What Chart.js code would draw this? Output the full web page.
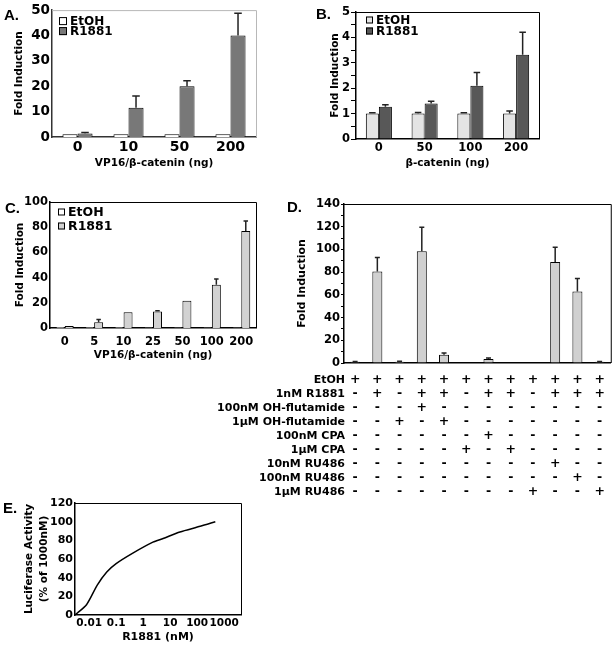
<!DOCTYPE html>
<html>
<head>
<meta charset="utf-8">
<script src="https://cdn.jsdelivr.net/npm/chart.js@4.4.1/dist/chart.umd.min.js"></script>
<style>
  body { margin: 0; background: #fff; }
  #page { position: relative; width: 615px; height: 648px; overflow: hidden; }
  canvas { position: absolute; }
  .tag { position: absolute; font: bold 15px 'Liberation Sans', Arial, sans-serif; color: #000; }
</style>
</head>
<body>
<div id="page">
  <canvas id="chartA" width="270" height="175" style="left:0;top:0"></canvas>
  <canvas id="chartB" width="315" height="175" style="left:300px;top:0"></canvas>
  <canvas id="chartC" width="270" height="185" style="left:0;top:182px"></canvas>
  <canvas id="chartD" width="415" height="320" style="left:200px;top:185px"></canvas>
  <canvas id="chartE" width="260" height="178" style="left:0;top:470px"></canvas>
  <div class="tag" style="left:4px;top:6px">A.</div>
  <div class="tag" style="left:316px;top:5px">B.</div>
  <div class="tag" style="left:5px;top:199px">C.</div>
  <div class="tag" style="left:287px;top:198px">D.</div>
  <div class="tag" style="left:3px;top:499px">E.</div>
</div>
<script>
// === DATA ===
// A. VP16/beta-catenin
const catsA = ['0', '10', '50', '200'];
const etohA = [1.1, 1.1, 1.1, 1.1];
const r1881A = [1.4, 11.5, 20.0, 40.0];
const r1881ErrA = [0.4, 4.7, 2.2, 8.8];

// B. beta-catenin
const catsB = ['0', '50', '100', '200'];
const etohB = [1.0, 1.0, 1.0, 1.0];
const etohErrB = [0.03, 0.04, 0.03, 0.1];
const r1881B = [1.27, 1.4, 2.1, 3.32];
const r1881ErrB = [0.08, 0.09, 0.52, 0.88];

// C. VP16/beta-catenin dose
const catsC = ['0', '5', '10', '25', '50', '100', '200'];
const etohC = [0.8, 0.6, 0.6, 0.5, 0.5, 0.5, 0.5];
const r1881C = [1.5, 4.6, 12.5, 13.0, 21.6, 34.3, 77.0];
const r1881ErrC = [0, 2.2, 0, 0.6, 0, 4.5, 8.0];

// D. antiandrogens
const valuesD = [1.0, 80.5, 1.2, 98.5, 7.2, 0.6, 3.5, 0.6, 0.6, 89.0, 63.0, 1.0];
const errD = [0.3, 12.5, 0.4, 21.0, 1.5, 0, 1.0, 0, 0, 13.0, 11.5, 0.4];
const rowLabelsD = ['EtOH', '1nM R1881', '100nM OH-flutamide', '1μM OH-flutamide',
  '100nM CPA', '1μM CPA', '10nM RU486', '100nM RU486', '1μM RU486'];
const signsD = [
  '++++++++++++',
  '-+-++-++-+++',
  '---+--------',
  '--+-+-------',
  '------+-----',
  '-----+-+----',
  '---------+--',
  '----------+-',
  '--------+--+'
];

// E. R1881 dose response
const doseE = [0.003, 0.008, 0.02, 0.045, 0.1, 0.4, 2.3, 5.5, 23, 130, 470];
const activityE = [0, 11, 32, 46, 55, 66, 78, 82, 89, 95, 100];
const tickValuesE = [0.01, 0.1, 1, 10, 100, 1000];

// === DEFAULTS ===
Chart.defaults.font.family = "'DejaVu Sans', sans-serif";
Chart.defaults.font.weight = 'bold';
Chart.defaults.color = '#000';

// === PLUGINS ===
// upper error bars with a small cap
const errorBars = {
  id: 'errorBars',
  afterDatasetsDraw(chart) {
    const ctx = chart.ctx;
    const yScale = chart.scales.y;
    chart.data.datasets.forEach((ds, di) => {
      if (!ds.errors) return;
      const meta = chart.getDatasetMeta(di);
      meta.data.forEach((bar, i) => {
        const err = ds.errors[i];
        if (!err) return;
        const top = yScale.getPixelForValue(ds.data[i] + err);
        const half = bar.width / 4;
        ctx.save();
        ctx.strokeStyle = '#222';
        ctx.lineWidth = 1.5;
        ctx.beginPath();
        ctx.moveTo(bar.x, bar.y);
        ctx.lineTo(bar.x, top);
        ctx.moveTo(bar.x - half, top);
        ctx.lineTo(bar.x + half, top);
        ctx.stroke();
        ctx.restore();
      });
    });
  }
};

// top + right edge of the plot box
const frame = {
  id: 'frame',
  afterDraw(chart, args, opts) {
    const { left, top, right, bottom } = chart.chartArea;
    const ctx = chart.ctx;
    ctx.save();
    ctx.strokeStyle = opts.color || '#000';
    ctx.lineWidth = 1;
    ctx.beginPath();
    ctx.moveTo(left, top + 0.5);
    ctx.lineTo(right + 0.5, top + 0.5);
    ctx.lineTo(right + 0.5, bottom);
    ctx.stroke();
    ctx.restore();
  }
};

// legend drawn inside the plot, top-left
const boxLegend = {
  id: 'boxLegend',
  afterDraw(chart, args, opts) {
    const ctx = chart.ctx;
    const { left, top } = chart.chartArea;
    ctx.save();
    ctx.font = `bold ${opts.size}px 'DejaVu Sans', sans-serif`;
    ctx.textBaseline = 'middle';
    chart.data.datasets.forEach((ds, i) => {
      const x = left + opts.dx;
      const y = top + opts.dy + i * opts.gap;
      ctx.fillStyle = ds.backgroundColor;
      ctx.fillRect(x, y - opts.box / 2, opts.box, opts.box);
      ctx.strokeStyle = '#000';
      ctx.lineWidth = 1;
      ctx.strokeRect(x + 0.5, y - opts.box / 2 + 0.5, opts.box - 1, opts.box - 1);
      ctx.fillStyle = '#000';
      ctx.fillText(ds.label, x + opts.box + 3, y + 0.5);
    });
    ctx.restore();
  }
};

// row names for the +/- table under panel D
const rowLabels = {
  id: 'rowLabels',
  afterDraw(chart, args, opts) {
    const ctx = chart.ctx;
    const xs = chart.scales.x;
    ctx.save();
    ctx.font = `bold ${opts.size}px 'DejaVu Sans', sans-serif`;
    ctx.textAlign = 'right';
    ctx.textBaseline = 'middle';
    ctx.fillStyle = '#000';
    opts.labels.forEach((t, i) => {
      ctx.fillText(t, chart.chartArea.left + 1, xs.top + opts.padding + opts.lineHeight * (i + 0.5));
    });
    ctx.restore();
  }
};

const fixW = (w) => (s) => { s.width = w; };
const fixH = (h) => (s) => { s.height = h; };

// === A ===
new Chart(document.getElementById('chartA'), {
  type: 'bar',
  data: {
    labels: catsA,
    datasets: [
      { label: 'EtOH', data: etohA, backgroundColor: '#ffffff', borderColor: '#000', borderWidth: 1 },
      { label: 'R1881', data: r1881A, errors: r1881ErrA, backgroundColor: '#787878', borderColor: '#000', borderWidth: 1 }
    ]
  },
  options: {
    responsive: false, animation: false,
    layout: { autoPadding: false, padding: { left: 13, top: 10, right: 14, bottom: 0 } },
    datasets: { bar: { categoryPercentage: 0.59, barPercentage: 1 } },
    plugins: { legend: { display: false }, tooltip: { enabled: false },
      frame: { color: '#b8b8b8' },
      boxLegend: { dx: 7, dy: 11, gap: 10, box: 8, size: 12 } },
    scales: {
      x: {
        grid: { display: false, drawTicks: false },
        border: { color: '#333', width: 1.5 },
        ticks: { font: { size: 14 }, padding: 2, maxRotation: 0, autoSkip: false },
        title: { display: true, text: 'VP16/β-catenin (ng)', font: { size: 10.5 }, padding: { top: 0, bottom: 5 } },
        afterFit: fixH(38)
      },
      y: {
        min: 0, max: 50,
        grid: { display: false, drawTicks: false },
        border: { color: '#333', width: 1.5 },
        ticks: { stepSize: 10, font: { size: 13.5 }, padding: 2 },
        title: { display: true, text: 'Fold Induction', font: { size: 10.5 }, padding: { top: 0, bottom: 0 } },
        afterFit: fixW(39)
      }
    }
  },
  plugins: [errorBars, frame, boxLegend]
});

// === B ===
new Chart(document.getElementById('chartB'), {
  type: 'bar',
  data: {
    labels: catsB,
    datasets: [
      { label: 'EtOH', data: etohB, errors: etohErrB, backgroundColor: '#e4e4e4', borderColor: '#000', borderWidth: 1 },
      { label: 'R1881', data: r1881B, errors: r1881ErrB, backgroundColor: '#585858', borderColor: '#000', borderWidth: 1 }
    ]
  },
  options: {
    responsive: false, animation: false,
    layout: { autoPadding: false, padding: { left: 29, top: 12, right: 76, bottom: 0 } },
    datasets: { bar: { categoryPercentage: 0.57, barPercentage: 1 } },
    plugins: { legend: { display: false }, tooltip: { enabled: false },
      frame: { color: '#000' },
      boxLegend: { dx: 10, dy: 8, gap: 11, box: 7, size: 12 } },
    scales: {
      x: {
        grid: { display: false, drawTicks: false },
        border: { color: '#000', width: 1.5 },
        ticks: { font: { size: 11.5 }, padding: 2, maxRotation: 0, autoSkip: false },
        title: { display: true, text: 'β-catenin (ng)', font: { size: 10.5 }, padding: { top: 0, bottom: 5 } },
        afterFit: fixH(36)
      },
      y: {
        min: 0, max: 5,
        grid: { display: true, drawOnChartArea: false, tickLength: 5, color: '#000' },
        border: { color: '#000', width: 1.5 },
        ticks: { stepSize: 0.5, autoSkip: false, font: { size: 11.5 }, padding: 1,
          callback: (v) => (v % 1 === 0 ? v : '') },
        title: { display: true, text: 'Fold Induction', font: { size: 10.5 }, padding: { top: 0, bottom: 0 } },
        afterFit: fixW(27)
      }
    }
  },
  plugins: [errorBars, frame, boxLegend]
});

// === C ===
new Chart(document.getElementById('chartC'), {
  type: 'bar',
  data: {
    labels: catsC,
    datasets: [
      { label: 'EtOH', data: etohC, backgroundColor: '#ffffff', borderColor: '#000', borderWidth: 1 },
      { label: 'R1881', data: r1881C, errors: r1881ErrC, backgroundColor: '#d2d2d2', borderColor: '#000', borderWidth: 1 }
    ]
  },
  options: {
    responsive: false, animation: false,
    layout: { autoPadding: false, padding: { left: 14, top: 20, right: 14, bottom: 0 } },
    datasets: { bar: { categoryPercentage: 0.61, barPercentage: 1 } },
    plugins: { legend: { display: false }, tooltip: { enabled: false },
      frame: { color: '#000' },
      boxLegend: { dx: 8, dy: 10, gap: 14, box: 7, size: 12.5 } },
    scales: {
      x: {
        grid: { display: false, drawTicks: false },
        border: { color: '#000', width: 1.5 },
        ticks: { font: { size: 11.5 }, padding: 7, maxRotation: 0, autoSkip: false },
        title: { display: true, text: 'VP16/β-catenin (ng)', font: { size: 10.5 }, padding: { top: 0, bottom: 5 } },
        afterFit: fixH(39)
      },
      y: {
        min: 0, max: 100,
        grid: { display: false, drawTicks: false },
        border: { color: '#000', width: 1.5 },
        ticks: { stepSize: 20, font: { size: 11.5 }, padding: 2 },
        title: { display: true, text: 'Fold Induction', font: { size: 10.5 }, padding: { top: 0, bottom: 0 } },
        afterFit: fixW(36)
      }
    }
  },
  plugins: [errorBars, frame, boxLegend]
});

// === D ===
const colsD = valuesD.map((v, j) => signsD.map(row => row[j]));
new Chart(document.getElementById('chartD'), {
  type: 'bar',
  data: {
    labels: colsD,
    datasets: [
      { label: 'Fold Induction', data: valuesD, errors: errD, backgroundColor: '#d0d0d0', borderColor: '#000', borderWidth: 1 }
    ]
  },
  options: {
    responsive: false, animation: false,
    layout: { autoPadding: false, padding: { left: 96, top: 19, right: 3, bottom: 0 } },
    datasets: { bar: { categoryPercentage: 0.45, barPercentage: 1 } },
    plugins: { legend: { display: false }, tooltip: { enabled: false },
      frame: { color: '#000' },
      rowLabels: { labels: rowLabelsD, size: 11, lineHeight: 14, padding: 10 } },
    scales: {
      x: {
        grid: { display: false, drawTicks: false },
        border: { color: '#000', width: 1.5 },
        ticks: { autoSkip: false, maxRotation: 0, font: { size: 12.5, lineHeight: '14px' }, padding: 10 },
        afterFit: fixH(142)
      },
      y: {
        min: 0, max: 140,
        grid: { display: true, drawOnChartArea: false, tickLength: 3, color: '#000' },
        border: { color: '#000', width: 1.5 },
        ticks: { stepSize: 10, autoSkip: false, font: { size: 11.5 }, padding: 1,
          callback: (v) => (v % 20 === 0 ? v : '') },
        title: { display: true, text: 'Fold Induction', font: { size: 11 }, padding: { top: 0, bottom: 0 } },
        afterFit: fixW(48)
      }
    }
  },
  plugins: [errorBars, frame, rowLabels]
});

// === E ===
new Chart(document.getElementById('chartE'), {
  type: 'line',
  data: {
    datasets: [{
      label: 'Luciferase Activity',
      data: doseE.map((x, i) => ({ x: x, y: activityE[i] })),
      borderColor: '#000', borderWidth: 1.5, pointRadius: 0, tension: 0.25, fill: false
    }]
  },
  options: {
    responsive: false, animation: false,
    layout: { autoPadding: false, padding: { left: 22, top: 33, right: 19, bottom: 0 } },
    plugins: { legend: { display: false }, tooltip: { enabled: false }, frame: { color: '#000' } },
    scales: {
      x: {
        type: 'logarithmic', min: 0.003, max: 4200,
        grid: { display: false, drawTicks: false },
        border: { color: '#000', width: 1.5 },
        afterBuildTicks: (s) => { s.ticks = tickValuesE.map(v => ({ value: v })); },
        ticks: { font: { size: 10.5 }, padding: 2, maxRotation: 0, autoSkip: false, callback: (v) => String(v) },
        title: { display: true, text: 'R1881 (nM)', font: { size: 11 }, padding: { top: 0, bottom: 4 } },
        afterFit: fixH(33)
      },
      y: {
        min: 0, max: 120,
        grid: { display: false, drawTicks: false },
        border: { color: '#000', width: 1.5 },
        ticks: { stepSize: 20, font: { size: 11 }, padding: 2 },
        title: { display: true, text: ['Luciferase Activity', '(% of 1000nM)'],
          font: { size: 10.5, lineHeight: '15px' }, padding: { top: 0, bottom: 0 } },
        afterFit: fixW(53)
      }
    }
  },
  plugins: [frame]
});
</script>
</body>
</html>
